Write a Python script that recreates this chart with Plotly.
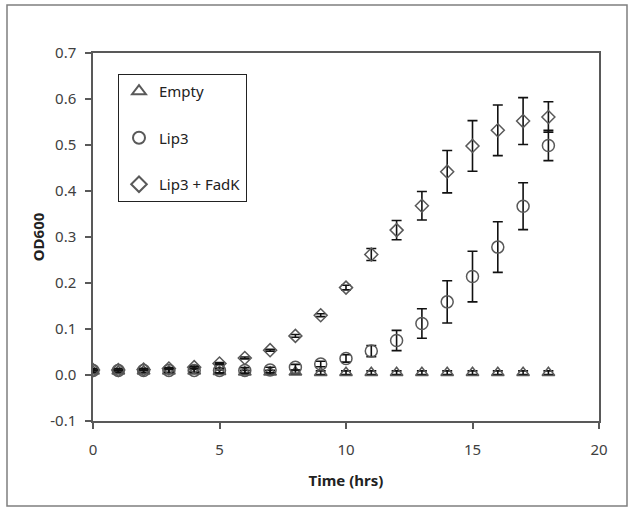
import plotly.graph_objects as go

time_hrs = list(range(19))

empty_od = [0.008, 0.008, 0.008, 0.008, 0.008, 0.007, 0.006, 0.006, 0.006, 0.005, 0.005,
            0.005, 0.005, 0.005, 0.005, 0.005, 0.005, 0.005, 0.005]
empty_err = [0.004] * 19

lip3_od = [0.010, 0.010, 0.010, 0.010, 0.010, 0.010, 0.010, 0.011, 0.017, 0.024, 0.036,
           0.052, 0.075, 0.112, 0.159, 0.214, 0.278, 0.367, 0.499]
lip3_err = [0.004, 0.004, 0.004, 0.004, 0.004, 0.005, 0.006, 0.006, 0.006, 0.006, 0.008,
            0.012, 0.022, 0.032, 0.046, 0.055, 0.055, 0.051, 0.033]

fadk_od = [0.011, 0.011, 0.012, 0.014, 0.017, 0.025, 0.037, 0.054, 0.085, 0.130, 0.190,
           0.262, 0.315, 0.368, 0.442, 0.498, 0.532, 0.552, 0.561]
fadk_err = [0.002, 0.002, 0.002, 0.002, 0.002, 0.002, 0.002, 0.002, 0.003, 0.003, 0.005,
            0.013, 0.021, 0.031, 0.046, 0.055, 0.055, 0.051, 0.033]

series = [
    ("Empty", empty_od, empty_err, "triangle-up-open", 11),
    ("Lip3", lip3_od, lip3_err, "circle-open", 12),
    ("Lip3 + FadK", fadk_od, fadk_err, "diamond-open", 10),
]

fig = go.Figure()
for i, (name, ys, errs, sym, sz) in enumerate(series):
    fig.add_trace(go.Scatter(
        x=time_hrs, y=ys, name=name, mode="markers",
        legendgroup=f"g{i}",
        marker=dict(symbol=sym, size=sz, color="#595959", line=dict(width=1.5, color="#595959")),
        error_y=dict(type="data", array=errs, visible=True, color="#111111", thickness=1.6, width=5),
    ))

font_family = "'Noto Sans', 'Open Sans', sans-serif"
W, H = 631, 510
L, R, T, B = 93, 32, 53, 89
pw, ph = W - L - R, H - T - B

def px_x(p):
    return (p - L) / pw

def px_y(p):
    return (H - B - p) / ph

fig.update_layout(
    width=W, height=H,
    margin=dict(l=L, r=R, t=T, b=B),
    paper_bgcolor="white", plot_bgcolor="white",
    font=dict(family=font_family, size=14, color="#404040"),
    showlegend=True,
    legend=dict(
        x=px_x(118), y=px_y(74), xanchor="left", yanchor="top",
        bordercolor="#222222", borderwidth=1, bgcolor="white",
        font=dict(family=font_family, size=15, color="#222222"),
        tracegroupgap=24, itemwidth=30, itemsizing="constant",
    ),
    xaxis=dict(
        range=[0, 20], tickvals=[0, 5, 10, 15, 20], showgrid=False, zeroline=False,
        showline=True, linecolor="#595959", linewidth=1.5, mirror=True,
        ticks="outside", ticklen=6, tickcolor="#595959", tickwidth=1.5,
        ticklabelstandoff=8,
        tickfont=dict(size=15, color="#404040"),
        title=dict(text="<b>Time (hrs)</b>", font=dict(size=15, color="#222222"), standoff=18),
    ),
    yaxis=dict(
        range=[-0.1, 0.7], tickvals=[-0.1, 0, 0.1, 0.2, 0.3, 0.4, 0.5, 0.6, 0.7],
        ticktext=["-0.1", "0.0", "0.1", "0.2", "0.3", "0.4", "0.5", "0.6", "0.7"],
        showgrid=False, zeroline=False,
        showline=True, linecolor="#595959", linewidth=1.5, mirror=True,
        ticks="outside", ticklen=6, tickcolor="#595959", tickwidth=1.5,
        ticklabelstandoff=6,
        tickfont=dict(size=15, color="#404040"),
        title=dict(text="<b>OD600</b>", font=dict(size=15, color="#222222"), standoff=2),
    ),
    shapes=[dict(
        type="rect", xref="paper", yref="paper",
        x0=px_x(7), x1=px_x(627), y0=px_y(506), y1=px_y(5),
        line=dict(color="#7f7f7f", width=1.5), fillcolor="rgba(0,0,0,0)", layer="below",
    )],
)

fig.write_html("out.html")
